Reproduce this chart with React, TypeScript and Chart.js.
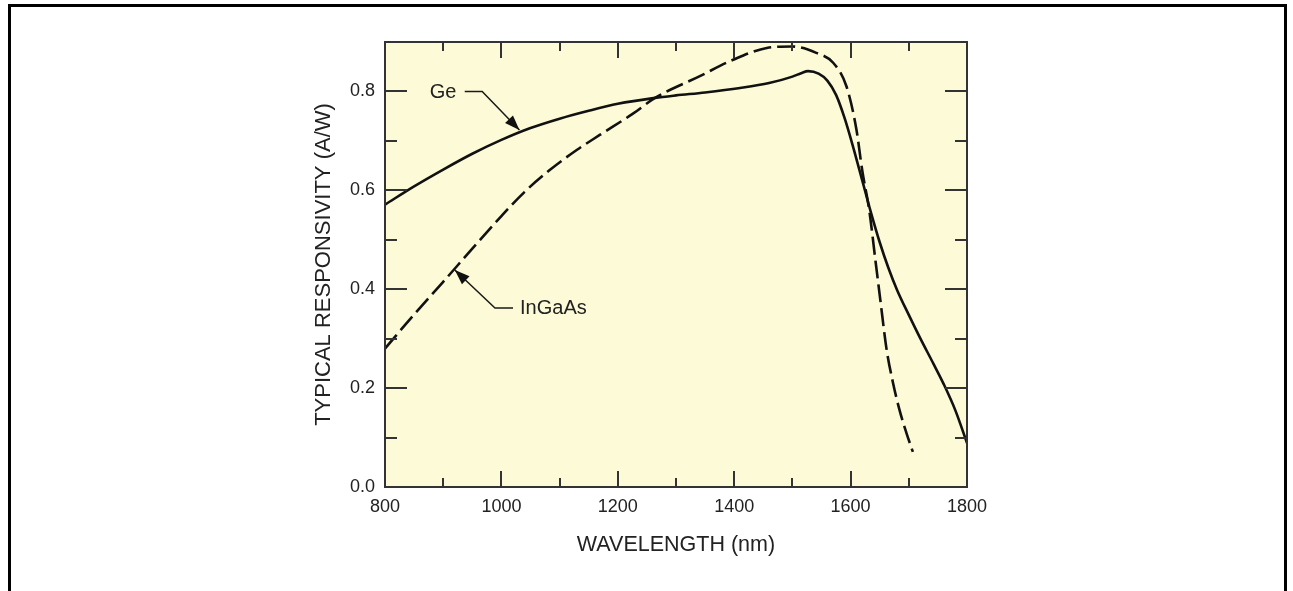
import React, { useEffect, useRef } from "react";
import { Chart, registerables } from "chart.js";

Chart.register(...registerables);

// ---- data ----
const GE_WAVELENGTH = [800, 850, 900, 950, 1000, 1050, 1100, 1150, 1200, 1264, 1300, 1350, 1410, 1460, 1500, 1515, 1527, 1545, 1560, 1575, 1590, 1605, 1620, 1635, 1650, 1665, 1680, 1700, 1720, 1742, 1760, 1780, 1800];
const GE_RESPONSIVITY = [0.571, 0.608, 0.642, 0.674, 0.702, 0.726, 0.745, 0.761, 0.775, 0.787, 0.792, 0.798, 0.807, 0.817, 0.830, 0.837, 0.841, 0.836, 0.822, 0.793, 0.745, 0.685, 0.620, 0.555, 0.495, 0.443, 0.398, 0.348, 0.300, 0.250, 0.208, 0.155, 0.089];

const INGAAS_WAVELENGTH = [800, 850, 900, 950, 1000, 1040, 1083, 1130, 1169, 1226, 1264, 1341, 1398, 1456, 1499, 1541, 1570, 1593, 1610, 1620, 1632, 1643, 1651, 1662, 1673, 1684, 1696, 1707];
const INGAAS_RESPONSIVITY = [0.28, 0.349, 0.415, 0.482, 0.548, 0.597, 0.641, 0.682, 0.712, 0.755, 0.787, 0.831, 0.864, 0.888, 0.891, 0.878, 0.858, 0.81, 0.723, 0.64, 0.56, 0.455, 0.379, 0.277, 0.21, 0.156, 0.109, 0.071];

const X_TICKS = [800, 1000, 1200, 1400, 1600, 1800];
const X_MINOR_TICKS = [900, 1100, 1300, 1500, 1700];
const Y_TICKS = [0, 0.2, 0.4, 0.6, 0.8];
const Y_MINOR_TICKS = [0.1, 0.3, 0.5, 0.7];
const X_RANGE = [800, 1800];
const Y_RANGE = [0, 0.9];

const X_TITLE = "WAVELENGTH (nm)";
const Y_TITLE = "TYPICAL RESPONSIVITY (A/W)";

const SERIES_NAMES = ["Ge", "InGaAs"];

// annotation labels with leader arrows (in data coordinates)
const GE_LABEL_AT = [877, 0.798];
const GE_LEADER = [[937, 0.8], [967, 0.8], [1031, 0.722]];
const INGAAS_LABEL_AT = [1032, 0.362];
const INGAAS_LEADER = [[1020, 0.362], [989, 0.362], [920, 0.439]];

const FONT = '"Liberation Sans", Arial, Helvetica, sans-serif';
const PLOT_BG = "#FDFAD8";
const AXIS_COLOR = "#333333";
const TEXT_COLOR = "#222222";

const toXY = (xs: number[], ys: number[]) => xs.map((x, i) => ({ x, y: ys[i] }));

const decorPlugin = {
  id: "decor",
  beforeDraw(chart: any) {
    const { ctx, chartArea: a } = chart;
    ctx.save();
    ctx.fillStyle = PLOT_BG;
    ctx.fillRect(a.left, a.top, a.right - a.left, a.bottom - a.top);
    ctx.restore();
  },
  afterDatasetsDraw(chart: any) {
    const { ctx, chartArea: a, scales } = chart;
    const xs = scales.x;
    const ys = scales.y;
    ctx.save();
    // frame
    ctx.strokeStyle = AXIS_COLOR;
    ctx.lineWidth = 2;
    ctx.strokeRect(a.left, a.top, a.right - a.left, a.bottom - a.top);
    // inward ticks
    ctx.beginPath();
    const xTick = (v: number, len: number) => {
      const px = Math.round(xs.getPixelForValue(v));
      ctx.moveTo(px, a.bottom);
      ctx.lineTo(px, a.bottom - len);
      ctx.moveTo(px, a.top);
      ctx.lineTo(px, a.top + len);
    };
    const yTick = (v: number, len: number) => {
      const py = Math.round(ys.getPixelForValue(v));
      ctx.moveTo(a.left, py);
      ctx.lineTo(a.left + len, py);
      ctx.moveTo(a.right, py);
      ctx.lineTo(a.right - len, py);
    };
    X_TICKS.forEach((v) => xTick(v, 16));
    X_MINOR_TICKS.forEach((v) => xTick(v, 9));
    Y_TICKS.forEach((v) => yTick(v, 22));
    Y_MINOR_TICKS.forEach((v) => yTick(v, 12));
    ctx.stroke();

    // annotations
    const drawLabel = (text: string, at: number[], leader: number[][]) => {
      ctx.font = `20px ${FONT}`;
      ctx.fillStyle = TEXT_COLOR;
      ctx.textAlign = "left";
      ctx.textBaseline = "middle";
      ctx.fillText(text, xs.getPixelForValue(at[0]), ys.getPixelForValue(at[1]));
      const pts = leader.map((p) => [xs.getPixelForValue(p[0]), ys.getPixelForValue(p[1])]);
      ctx.strokeStyle = "#1a1a1a";
      ctx.lineWidth = 1.5;
      ctx.beginPath();
      ctx.moveTo(pts[0][0], pts[0][1]);
      for (let i = 1; i < pts.length; i++) ctx.lineTo(pts[i][0], pts[i][1]);
      ctx.stroke();
      const tip = pts[pts.length - 1];
      const prev = pts[pts.length - 2];
      const ang = Math.atan2(tip[1] - prev[1], tip[0] - prev[0]);
      const L = 15;
      const W = 5.5;
      const bx = tip[0] - L * Math.cos(ang);
      const by = tip[1] - L * Math.sin(ang);
      ctx.fillStyle = "#111";
      ctx.beginPath();
      ctx.moveTo(tip[0], tip[1]);
      ctx.lineTo(bx + W * Math.sin(ang), by - W * Math.cos(ang));
      ctx.lineTo(bx - W * Math.sin(ang), by + W * Math.cos(ang));
      ctx.closePath();
      ctx.fill();
    };
    drawLabel(SERIES_NAMES[0], GE_LABEL_AT, GE_LEADER);
    drawLabel(SERIES_NAMES[1], INGAAS_LABEL_AT, INGAAS_LEADER);
    ctx.restore();
  },
};

export default function App() {
  const canvasRef = useRef<HTMLCanvasElement | null>(null);

  useEffect(() => {
    if (!canvasRef.current) return;
    const chart = new Chart(canvasRef.current, {
      type: "line",
      data: {
        datasets: [
          {
            label: SERIES_NAMES[0],
            data: toXY(GE_WAVELENGTH, GE_RESPONSIVITY),
            borderColor: "#111111",
            borderWidth: 2.6,
            pointRadius: 0,
            cubicInterpolationMode: "monotone",
            fill: false,
          },
          {
            label: SERIES_NAMES[1],
            data: toXY(INGAAS_WAVELENGTH, INGAAS_RESPONSIVITY),
            borderColor: "#111111",
            borderWidth: 2.6,
            borderDash: [18, 6],
            pointRadius: 0,
            cubicInterpolationMode: "monotone",
            fill: false,
          },
        ],
      },
      options: {
        animation: false,
        responsive: true,
        maintainAspectRatio: false,
        layout: { padding: { left: 300, right: 326, top: 42, bottom: 0 } },
        plugins: {
          legend: { display: false },
          tooltip: { enabled: false },
        },
        scales: {
          x: {
            type: "linear",
            min: X_RANGE[0],
            max: X_RANGE[1],
            afterBuildTicks: (s: any) => {
              s.ticks = X_TICKS.map((v) => ({ value: v }));
            },
            afterFit: (s: any) => {
              s.height = 104;
            },
            grid: { display: false, drawTicks: false },
            border: { display: false },
            ticks: {
              padding: 9,
              maxRotation: 0,
              color: TEXT_COLOR,
              font: { family: FONT, size: 18 },
              callback: (v: any) => String(v),
            },
            title: {
              display: true,
              text: X_TITLE,
              color: TEXT_COLOR,
              font: { family: FONT, size: 21.5 },
              padding: { top: 0, bottom: 33 },
            },
          },
          y: {
            type: "linear",
            min: Y_RANGE[0],
            max: Y_RANGE[1],
            afterBuildTicks: (s: any) => {
              s.ticks = Y_TICKS.map((v) => ({ value: v }));
            },
            afterFit: (s: any) => {
              s.width = 85;
            },
            grid: { display: false, drawTicks: false },
            border: { display: false },
            ticks: {
              padding: 10,
              color: TEXT_COLOR,
              font: { family: FONT, size: 18 },
              callback: (v: any) => Number(v).toFixed(1),
            },
            title: {
              display: true,
              text: Y_TITLE,
              color: TEXT_COLOR,
              font: { family: FONT, size: 22 },
              padding: { top: 11, bottom: 0 },
            },
          },
        },
      },
      plugins: [decorPlugin],
    } as any);
    return () => chart.destroy();
  }, []);

  return (
    <div style={{ position: "absolute", left: 0, top: 0, width: 1293, height: 591, background: "#ffffff" }}>
      <div
        style={{
          position: "absolute",
          left: 8,
          top: 4,
          width: 1279,
          height: 587,
          boxSizing: "border-box",
          borderLeft: "3px solid #000",
          borderTop: "3px solid #000",
          borderRight: "3px solid #000",
        }}
      />
      <canvas ref={canvasRef} style={{ position: "absolute", left: 0, top: 0, width: 1293, height: 591 }} />
    </div>
  );
}
